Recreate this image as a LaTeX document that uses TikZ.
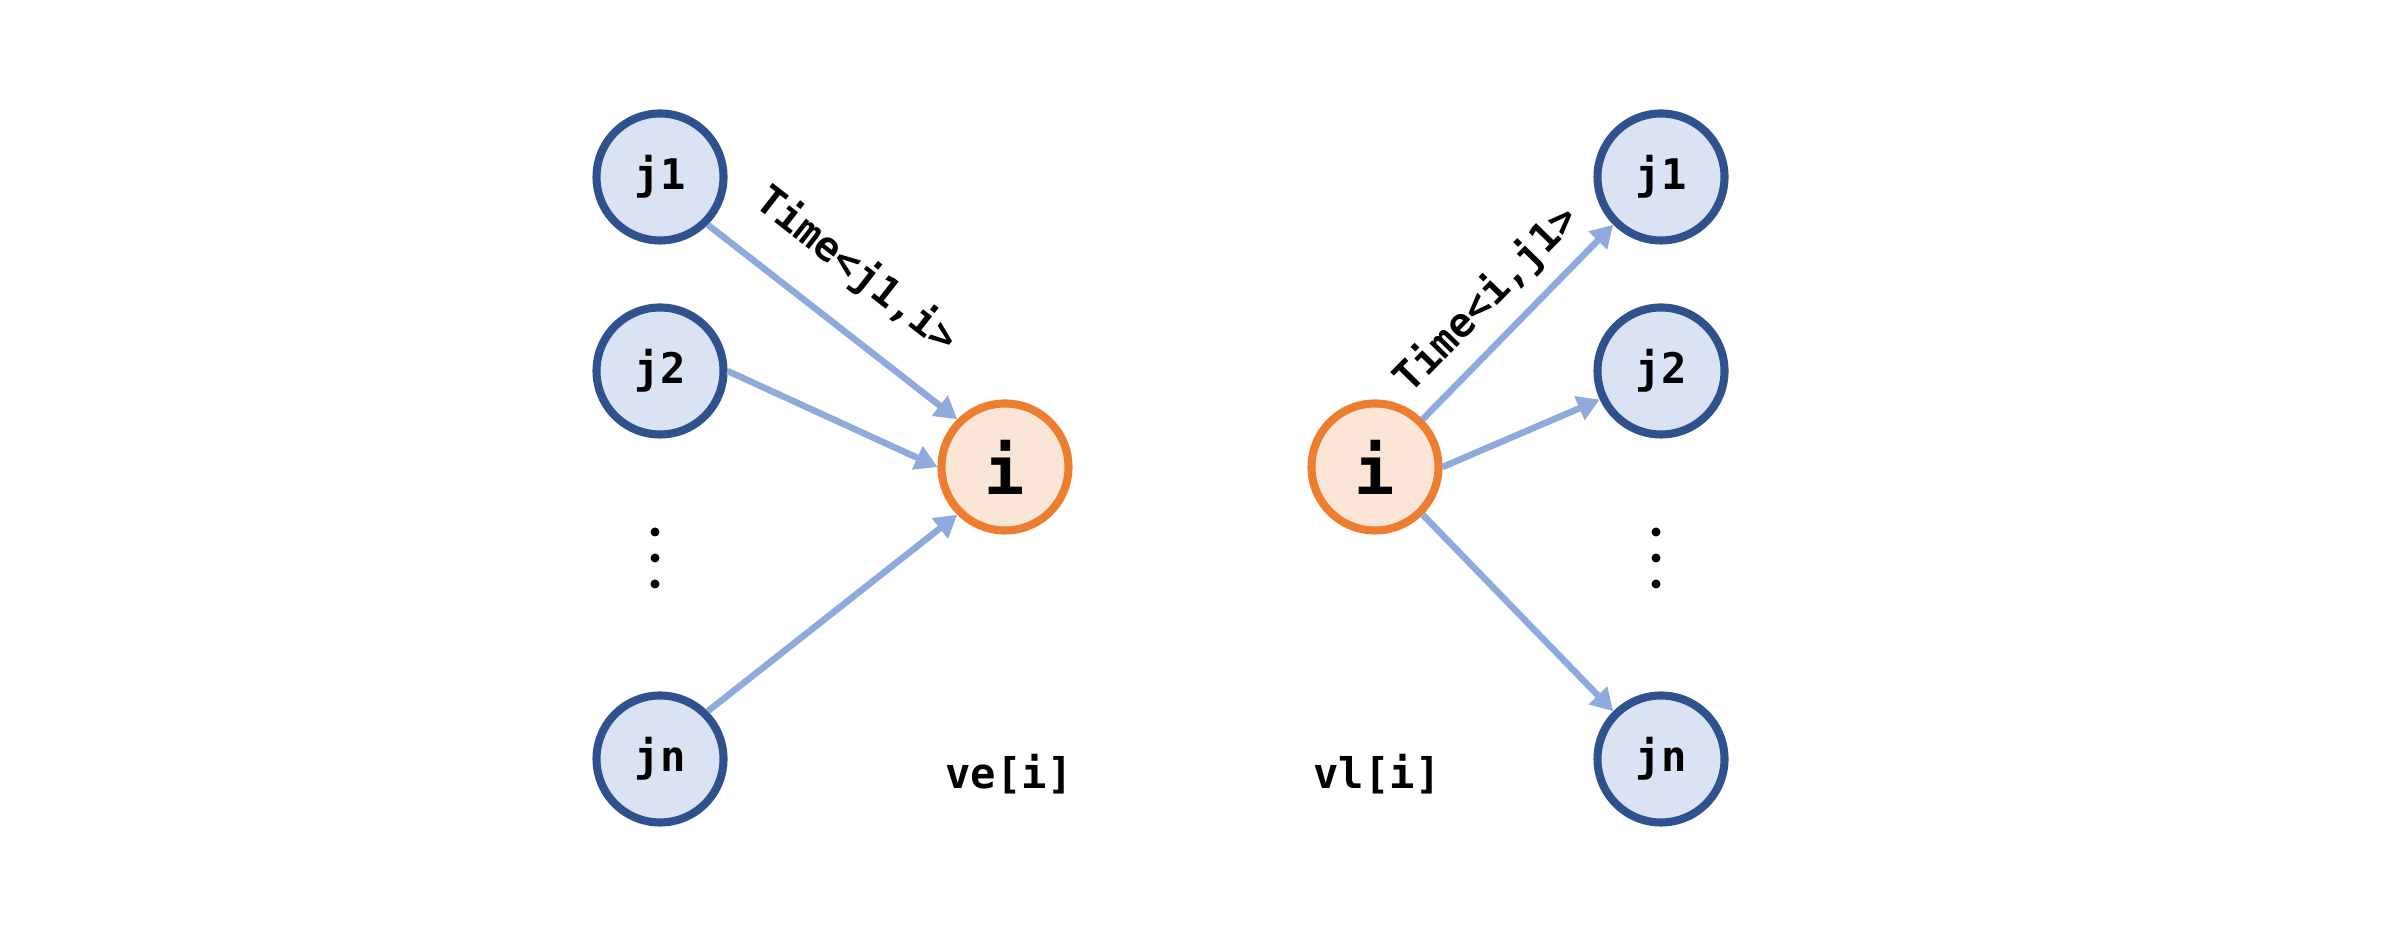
\documentclass[tikz,border=0pt]{standalone}
\usepackage{fontspec}
\setmonofont{DejaVu Sans Mono}
\usepackage{xcolor}
\usepackage{tikz}
\usetikzlibrary{arrows.meta}
\definecolor{jborder}{HTML}{2F528F}
\definecolor{jfill}{HTML}{DAE3F3}
\definecolor{iborder}{HTML}{ED7D31}
\definecolor{ifill}{HTML}{FBE5D6}
\definecolor{linkblue}{HTML}{8FAADC}

\begin{document}
\begin{tikzpicture}[>={Triangle[length=6.3pt,width=7pt]},
    jnode/.style={circle, draw=jborder, fill=jfill, line width=2.3pt, minimum size=1.27cm, inner sep=0pt,
        font=\ttfamily\bfseries\fontsize{12}{14}\selectfont},
    inode/.style={circle, draw=iborder, fill=ifill, line width=2.3pt, minimum size=1.27cm, inner sep=0pt,
        font=\ttfamily\bfseries\fontsize{19}{22}\selectfont},
    link/.style={->, draw=linkblue, line width=1.85pt},
    timelbl/.style={sloped, inner sep=0pt, font=\ttfamily\bfseries\fontsize{11.5}{13}\selectfont},
    arrlbl/.style={font=\ttfamily\bfseries\fontsize{12}{14}\selectfont}]
\useasboundingbox (0,0) rectangle (23.84,9.30);

% predecessors -> i
\node[jnode] (lj1) at (6.60,7.53) {j1};
\node[jnode] (lj2) at (6.60,5.59) {j2};
\node[jnode] (ljn) at (6.60,1.71) {jn};
\node[inode] (li) at (10.05,4.63) {i};

\draw[link] (lj1.south east) -- (li.north west)
    node[timelbl, pos=0.46, above=9pt] {Time<j1,i>};
\draw[link] (lj2.east) -- (li.west);
\draw[link] (ljn.north east) -- (li.south west);

% i -> successors
\node[inode] (ri) at (13.75,4.63) {i};
\node[jnode] (rj1) at (16.61,7.53) {j1};
\node[jnode] (rj2) at (16.61,5.59) {j2};
\node[jnode] (rjn) at (16.61,1.71) {jn};

\draw[link] (ri.north east) -- (rj1.south west)
    node[timelbl, pos=0.48, above=4pt] {Time<i,j1>};
\draw[link] (ri.east) -- (rj2.205);
\draw[link] (ri.south east) -- (rjn.north west);

\foreach \y in {3.98,3.72,3.46} {
    \fill (6.55,\y) circle (0.045);
    \fill (16.56,\y) circle (0.045);
}

\node[arrlbl] (ve) at (10.09,1.56) {ve[i]};
\node[arrlbl] (vl) at (13.77,1.56) {vl[i]};
\end{tikzpicture}
\end{document}
